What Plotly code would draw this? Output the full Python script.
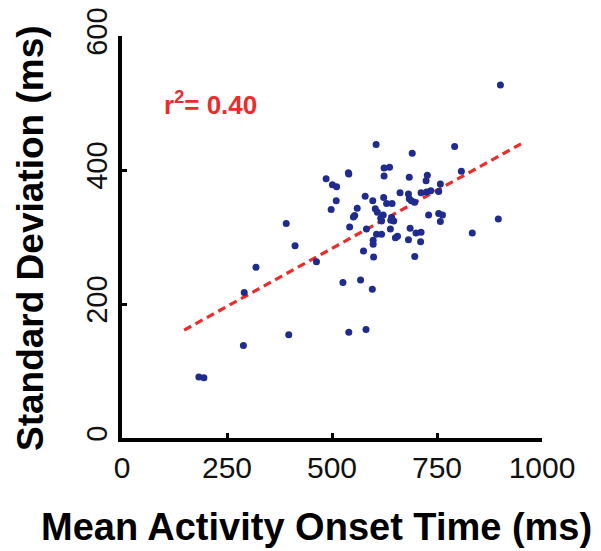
import plotly.graph_objects as go

# mean onset time (ms) and standard deviation (ms) per neuron
onset_ms = [
    901, 605, 792, 691, 808, 624, 637, 624, 539, 540,
    486, 501, 511, 510, 498, 391, 412, 463, 319, 291,
    526, 568, 596, 397, 289, 540, 581, 183, 195, 896,
    834, 684, 727, 724, 662, 682, 684, 697, 689, 712,
    725, 735, 754, 758, 754, 763, 758, 730, 686, 700,
    712, 711, 682, 697, 651, 656, 639, 642, 647, 640,
    622, 618, 616, 623, 630, 643, 597, 603, 608, 579,
    560, 554, 551, 542, 582, 606, 618, 598, 598, 575,
    599,
]
std_ms = [
    527, 438, 435, 425, 398, 403, 404, 391, 396, 394,
    387, 378, 375, 354, 341, 320, 287, 263, 255, 217,
    232, 236, 222, 154, 138, 158, 162, 91, 90, 327,
    306, 389, 392, 384, 366, 364, 357, 352, 354, 366,
    367, 369, 368, 379, 335, 333, 323, 333, 313, 306,
    307, 293, 296, 271, 299, 301, 312, 329, 324, 325,
    333, 324, 328, 359, 350, 350, 354, 342, 337, 361,
    343, 332, 330, 315, 312, 304, 304, 295, 289, 279,
    270,
]

# regression line end points
fit_x = [148, 950]
fit_y = [161, 439]
r2_label = "0.40"

x_ticks = [0, 250, 500, 750, 1000]
y_ticks = [0, 200, 400, 600]

FONT = "Liberation Sans, Arial, Helvetica, sans-serif"

fig = go.Figure()

fig.add_trace(go.Scatter(
    x=fit_x, y=fit_y, mode="lines",
    line=dict(color="#ee2b2b", width=3.2, dash="8px,5px"),
    hoverinfo="skip", showlegend=False))

fig.add_trace(go.Scatter(
    x=onset_ms, y=std_ms, mode="markers",
    marker=dict(color="#1f2b8e", size=7, line=dict(width=0)),
    showlegend=False))

fig.add_annotation(
    x=96, y=500, xref="x", yref="y", xanchor="left", yanchor="middle",
    text=f"<b>r<sup>2</sup>= {r2_label}</b>", showarrow=False,
    font=dict(family=FONT, size=26, color="#ee2b2b"))

# axis titles as annotations so they can sit where the original has them
fig.add_annotation(
    x=0.462, y=-0.221, xref="paper", yref="paper",
    xanchor="center", yanchor="middle", showarrow=False,
    text="<b>Mean Activity Onset Time (ms)</b>",
    font=dict(family=FONT, size=38, color="black"))
fig.add_annotation(
    x=-0.219, y=0.4975, xref="paper", yref="paper",
    xanchor="center", yanchor="middle", showarrow=False, textangle=-90,
    text="<b>Standard Deviation (ms)</b>",
    font=dict(family=FONT, size=37, color="black"))

axis_common = dict(
    showgrid=False, zeroline=False, showline=True, automargin=False,
    linecolor="black", linewidth=3.5,
    ticks="inside", ticklen=5, tickwidth=2.5, tickcolor="black",
    ticklabeloverflow="allow",
)

fig.update_xaxes(range=[0, 1000], tickvals=x_ticks, tickangle=0,
                 tickfont=dict(family=FONT, size=30, color="#111111"),
                 **axis_common)
fig.update_yaxes(range=[0, 600], tickvals=y_ticks, tickangle=-90,
                 tickfont=dict(family=FONT, size=29, color="#111111"),
                 **axis_common)

# the page adds an 8px body margin, so the figure is 8px smaller than the window
fig.update_layout(
    width=593, height=543,
    margin=dict(l=114, r=59, t=28, b=113),
    plot_bgcolor="white", paper_bgcolor="white",
    font=dict(family=FONT),
)

fig.write_html("out.html")
